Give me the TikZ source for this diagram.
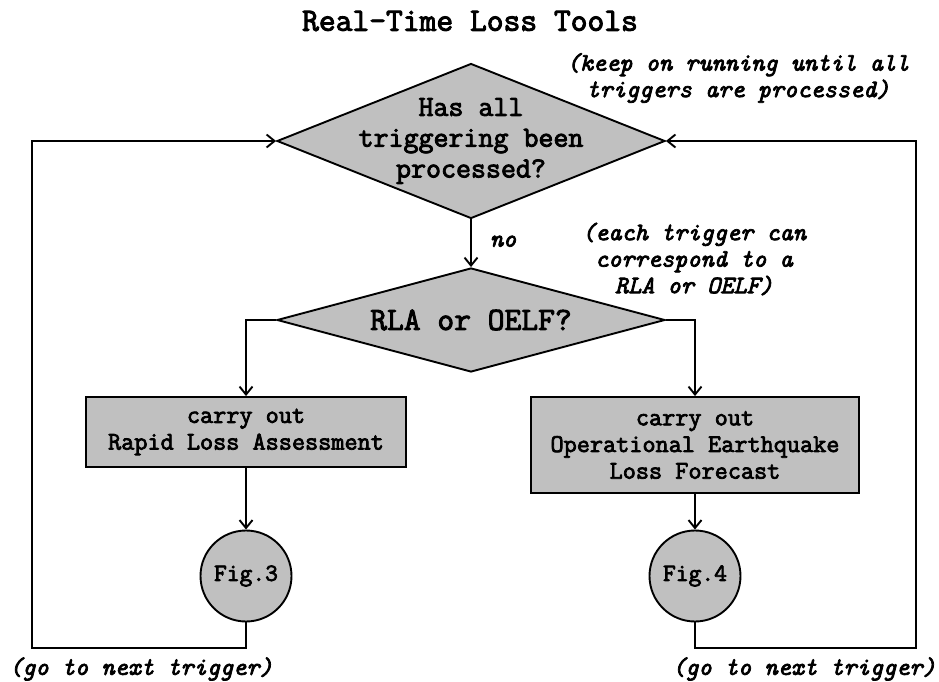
\documentclass[tikz,border=0pt]{standalone}
\usepackage{fontspec}
\setmonofont{Latin Modern Mono}[
  BoldFont={Latin Modern Mono},
  BoldFeatures={FakeBold=3},
  BoldItalicFont={Latin Modern Mono/I},
  BoldItalicFeatures={FakeBold=3}]
\usetikzlibrary{shapes.geometric,arrows.meta}
\definecolor{boxgray}{HTML}{C0C0C0}
\tikzset{
  base/.style={draw=black, line width=1.9pt, fill=boxgray},
  dia/.style={base, diamond, inner sep=0pt},
  procbox/.style={base, rectangle, inner sep=0pt, align=center},
  figcirc/.style={base, circle, inner sep=0pt, minimum size=91pt},
  conn/.style={line width=1.9pt, -{Straight Barb[length=8pt,width=13pt,line width=1.9pt]}},
  note/.style={font=\ttfamily\bfseries\itshape\fontsize{25.1}{26.5}\selectfont, align=center, inner sep=0pt},
}
\begin{document}
\begin{tikzpicture}[x=1pt,y=-1pt]
\useasboundingbox (0,0) rectangle (939,682);
\node[font=\ttfamily\bfseries\fontsize{32.6}{34}\selectfont, inner sep=0pt] (title) at (470,21) {Real-Time Loss Tools};

\node[dia, minimum width=388pt, minimum height=155pt] (d1) at (471,141) {};
\node[font=\ttfamily\bfseries\fontsize{29.1}{30.8}\selectfont, align=center, inner sep=0pt] (d1t) at (d1) {Has all\\triggering been\\processed?};

\node[dia, minimum width=388pt, minimum height=104pt] (d2) at (471,320) {};
\node[font=\ttfamily\bfseries\fontsize{32.6}{34}\selectfont, inner sep=0pt] (d2t) at (d2) {RLA or OELF?};

\node[procbox, minimum width=320pt, minimum height=70pt, font=\ttfamily\bfseries\fontsize{25.5}{26.7}\selectfont] (b1) at (246,432) {carry out\\Rapid Loss Assessment};
\node[procbox, minimum width=328pt, minimum height=96pt, font=\ttfamily\bfseries\fontsize{25.5}{26.7}\selectfont] (b2) at (695,445) {carry out\\Operational Earthquake\\Loss Forecast};

\node[figcirc, font=\ttfamily\bfseries\fontsize{24.8}{26}\selectfont] (c1) at (246,576) {Fig.3};
\node[figcirc, font=\ttfamily\bfseries\fontsize{24.8}{26}\selectfont] (c2) at (695,576) {Fig.4};

\coordinate (l1) at (32,648);
\coordinate (r1) at (916,648);

\draw[conn] (d1.south) -- node[note, anchor=west, xshift=18pt, yshift=2pt] (no) {no} (d2.north);
\draw[conn] (d2.west) -| (b1.north);
\draw[conn] (d2.east) -| (b2.north);
\draw[conn] (b1.south) -- (c1.north);
\draw[conn] (b2.south) -- (c2.north);
\draw[conn] (c1.south) |- (l1) |- (d1.west);
\draw[conn] (c2.south) |- (r1) |- (d1.east);

\node[note] (keep) at (738,78) {(keep on running until all\\triggers are processed)};
\node[note] (each) at (694,259) {(each trigger can\\correspond to a\\RLA or OELF)};
\node[note, anchor=west] (go1) at (9,669) {(go to next trigger)};
\node[note, anchor=east] (go2) at (936,669) {(go to next trigger)};
\end{tikzpicture}
\end{document}
